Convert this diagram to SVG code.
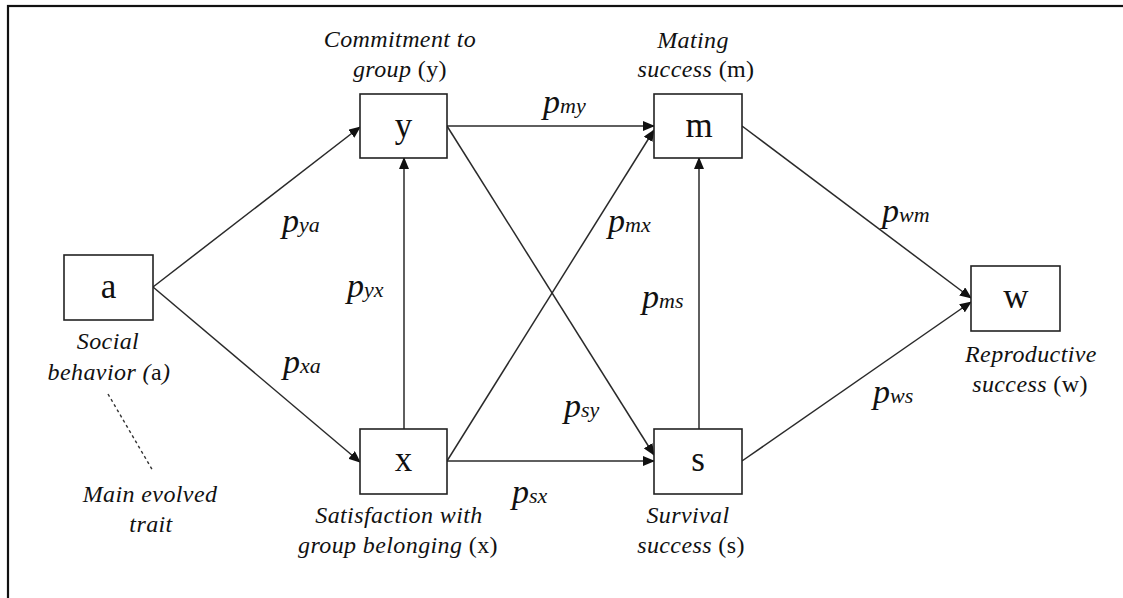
<svg xmlns="http://www.w3.org/2000/svg" width="1123" height="598" viewBox="0 0 1123 598">
<style>
.frame{fill:none;stroke:#111;stroke-width:2.2}
.box{fill:#fff;stroke:#222;stroke-width:1.6}
.edge{fill:none;stroke:#2a2a2a;stroke-width:1.5}
.dash{fill:none;stroke:#333;stroke-width:1.4;stroke-dasharray:3,3}
.lbl{font-family:"Liberation Serif",serif;font-style:italic;font-size:24px;letter-spacing:0.4px;fill:#111}
.up{font-style:normal}
.nl{font-family:"Liberation Serif",serif;font-size:35px;fill:#111;text-anchor:middle}
.p{font-family:"Liberation Serif",serif;font-style:italic;font-size:34px;fill:#111}
.sub{font-size:22px}
</style>
<defs>
<marker id="ah" markerWidth="12" markerHeight="10" refX="11" refY="5" orient="auto" markerUnits="userSpaceOnUse">
<path d="M0,0 L12,5 L0,10 Z" fill="#111"/>
</marker>
</defs>
<rect class="frame" x="8" y="6" width="1140" height="620"/>
<g id="connectors">
<line class="edge" x1="153" y1="287" x2="360" y2="127" marker-end="url(#ah)"/>
<line class="edge" x1="153" y1="287" x2="360" y2="462" marker-end="url(#ah)"/>
<line class="edge" x1="447" y1="126" x2="654" y2="126" marker-end="url(#ah)"/>
<line class="edge" x1="447" y1="461" x2="654" y2="461" marker-end="url(#ah)"/>
<line class="edge" x1="404" y1="429" x2="404" y2="158" marker-end="url(#ah)"/>
<line class="edge" x1="699" y1="429" x2="699" y2="158" marker-end="url(#ah)"/>
<line class="edge" x1="447" y1="126" x2="654" y2="455" marker-end="url(#ah)"/>
<line class="edge" x1="447" y1="461" x2="654" y2="130" marker-end="url(#ah)"/>
<line class="edge" x1="742" y1="126" x2="971" y2="298" marker-end="url(#ah)"/>
<line class="edge" x1="742" y1="461" x2="971" y2="302" marker-end="url(#ah)"/>
<line class="dash" x1="108" y1="394" x2="153" y2="471"/>
</g>
<g id="node-a">
<rect class="box" x="64" y="255" width="89" height="65"/>
<text class="nl" x="108.5" y="298">a</text>
<text class="lbl" x="108" y="349" text-anchor="middle">Social</text>
<text class="lbl" x="109" y="380" text-anchor="middle">behavior (<tspan class="up">a</tspan>)</text>
</g>
<g id="node-y">
<rect class="box" x="360" y="94" width="87" height="64"/>
<text class="nl" x="403.5" y="137">y</text>
<text class="lbl" x="400" y="47" text-anchor="middle">Commitment to</text>
<text class="lbl" x="400" y="77" text-anchor="middle">group <tspan class="up">(y)</tspan></text>
</g>
<g id="node-x">
<rect class="box" x="360" y="429" width="87" height="65"/>
<text class="nl" x="403.5" y="471">x</text>
<text class="lbl" x="399" y="523" text-anchor="middle">Satisfaction with</text>
<text class="lbl" x="398" y="553" text-anchor="middle">group belonging <tspan class="up">(x)</tspan></text>
</g>
<g id="node-m">
<rect class="box" x="654" y="94" width="88" height="64"/>
<text class="nl" x="699" y="137">m</text>
<text class="lbl" x="693" y="48" text-anchor="middle">Mating</text>
<text class="lbl" x="696" y="77" text-anchor="middle">success <tspan class="up">(m)</tspan></text>
</g>
<g id="node-s">
<rect class="box" x="654" y="429" width="88" height="65"/>
<text class="nl" x="698" y="471">s</text>
<text class="lbl" x="688" y="523" text-anchor="middle">Survival</text>
<text class="lbl" x="691" y="553" text-anchor="middle">success <tspan class="up">(s)</tspan></text>
</g>
<g id="node-w">
<rect class="box" x="971" y="266" width="89" height="65"/>
<text class="nl" x="1016" y="308">w</text>
<text class="lbl" x="1031" y="362" text-anchor="middle">Reproductive</text>
<text class="lbl" x="1030" y="392" text-anchor="middle">success <tspan class="up">(w)</tspan></text>
</g>
<g id="trait-note">
<text class="lbl" x="150" y="502" text-anchor="middle">Main evolved</text>
<text class="lbl" x="151" y="532" text-anchor="middle">trait</text>
</g>
<g id="path-labels">
<text class="p" x="282" y="232">p<tspan class="sub">ya</tspan></text>
<text class="p" x="347" y="297">p<tspan class="sub">yx</tspan></text>
<text class="p" x="283" y="373">p<tspan class="sub">xa</tspan></text>
<text class="p" x="543" y="113">p<tspan class="sub">my</tspan></text>
<text class="p" x="608" y="232">p<tspan class="sub">mx</tspan></text>
<text class="p" x="642" y="308">p<tspan class="sub">ms</tspan></text>
<text class="p" x="564" y="417">p<tspan class="sub">sy</tspan></text>
<text class="p" x="512" y="503">p<tspan class="sub">sx</tspan></text>
<text class="p" x="882" y="222">p<tspan class="sub">wm</tspan></text>
<text class="p" x="873" y="403">p<tspan class="sub">ws</tspan></text>
</g>
</svg>
